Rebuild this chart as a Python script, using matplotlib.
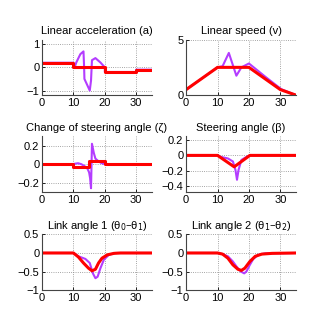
import matplotlib
matplotlib.use("Agg")
import matplotlib.pyplot as plt

plt.rcParams['font.family'] = ['Liberation Sans', 'DejaVu Sans']
plt.rcParams['font.size'] = 8

PURPLE = '#b43cff'
RED = '#ff0000'

# Linear acceleration (a)
acc_t_p = [0, 10, 10, 10.5, 10.9, 12.2, 13.2, 13.4, 13.5, 15.2, 15.6, 15.9, 17.0, 18.6, 20, 20, 30, 30, 35]
acc_p = [0.2, 0.2, 0.0, 0.05, 0.21, 0.57, 0.69, 0.0, -0.5, -1.0, -0.57, 0.31, 0.4, 0.21, 0.0, -0.2, -0.2, -0.1, -0.1]
acc_t_r = [0, 10, 10, 20, 20, 30, 30, 35]
acc_r = [0.2, 0.2, 0.0, 0.0, -0.2, -0.2, -0.1, -0.1]

# Linear speed (v)
spd_t_p = [0, 10, 11.6, 13.6, 16.0, 17.6, 20.0, 25.2, 30.3, 35]
spd_p = [0.5, 2.5, 2.6, 3.8, 1.75, 2.5, 2.85, 1.66, 0.54, 0.0]
spd_t_r = [0, 10, 20, 30, 35]
spd_r = [0.5, 2.5, 2.5, 0.5, 0.0]

# Change of steering angle (zeta)
zeta_t_p = [0, 10, 10.5, 11.5, 12.5, 13.5, 14.5, 15.0, 15.3, 15.6, 15.9, 16.5, 17.0, 18.0, 19.0, 20.0, 35]
zeta_p = [0, 0, 0.005, 0.01, 0.0, -0.02, -0.05, -0.09, -0.15, -0.26, 0.22, 0.12, 0.06, 0.03, 0.01, 0.0, 0.0]
zeta_t_r = [0, 10, 10, 15, 15, 20, 20, 35]
zeta_r = [0, 0, -0.03, -0.03, 0.03, 0.03, 0, 0]

# Steering angle (beta)
beta_t_p = [0, 10, 11.1, 13.3, 14.9, 15.7, 16.2, 16.7, 17.6, 19.2, 20.3, 35]
beta_p = [0, 0, -0.02, -0.04, -0.08, -0.19, -0.32, -0.19, -0.06, -0.02, 0, 0]
beta_t_r = [0, 10, 15.3, 20.3, 35]
beta_r = [0, 0, -0.15, 0, 0]

# Link angle 1
th1_t_p = [0, 10, 11.6, 13.8, 15.2, 16.2, 17.0, 17.7, 18.6, 19.7, 21.3, 23.4, 35]
th1_p = [0, 0, -0.09, -0.16, -0.27, -0.55, -0.68, -0.64, -0.41, -0.18, -0.05, 0, 0]
th1_t_r = [0, 10, 11.6, 13.2, 14.8, 15.9, 17.0, 18.0, 19.1, 20.8, 22.9, 25, 35]
th1_r = [0, 0, -0.11, -0.27, -0.41, -0.48, -0.44, -0.27, -0.14, -0.05, -0.01, 0, 0]

# Link angle 2
th2_t_p = [0, 10, 11.6, 13.3, 14.9, 16.0, 17.4, 18.5, 19.2, 20.3, 21.4, 23.0, 25.2, 35]
th2_p = [0, 0, -0.03, -0.09, -0.23, -0.36, -0.5, -0.55, -0.5, -0.32, -0.16, -0.05, -0.01, 0]
th2_t_r = [0, 10, 11.6, 13.3, 14.9, 16.5, 17.6, 18.7, 20.3, 22.0, 24.1, 27.4, 35]
th2_r = [0, 0, -0.03, -0.14, -0.32, -0.44, -0.47, -0.41, -0.23, -0.09, -0.03, -0.01, 0]

titles = ['Linear acceleration (a)', 'Linear speed (v)',
          'Change of steering angle (\u03b6)', 'Steering angle (\u03b2)',
          'Link angle 1 (\u03b8$_0$\u2013\u03b8$_1$)', 'Link angle 2 (\u03b8$_1$\u2013\u03b8$_2$)']
yticks = [[-1, 0, 1], [0, 5], [-0.2, 0, 0.2], [-0.4, -0.2, 0, 0.2], [-1, -0.5, 0, 0.5], [-1, -0.5, 0, 0.5]]
ytlabels = [['\u22121', '0', '1'], ['0', '5'], ['\u22120.2', '0', '0.2'],
            ['\u22120.4', '\u22120.2', '0', '0.2'], ['\u22121', '\u22120.5', '0', '0.5'],
            ['\u22121', '\u22120.5', '0', '0.5']]
ylims = [(-1.2, 1.2), (0, 5), (-0.3, 0.3), (-0.48, 0.25), (-1, 0.5), (-1, 0.5)]
xticks = [0, 10, 20, 30]

series = [(acc_t_p, acc_p, acc_t_r, acc_r), (spd_t_p, spd_p, spd_t_r, spd_r),
          (zeta_t_p, zeta_p, zeta_t_r, zeta_r), (beta_t_p, beta_p, beta_t_r, beta_r),
          (th1_t_p, th1_p, th1_t_r, th1_r), (th2_t_p, th2_p, th2_t_r, th2_r)]

fig = plt.figure(figsize=(3.26, 3.27), dpi=100)
lefts = [0.129, 0.571]
bottoms = [0.709, 0.413, 0.113]
w, h = 0.337, 0.170

for i, (tp, yp, tr, yr) in enumerate(series):
    ax = fig.add_axes([lefts[i % 2], bottoms[i // 2], w, h])
    ax.plot(tp, yp, color=PURPLE, lw=1.5)
    ax.plot(tr, yr, color=RED, lw=2.2)
    ax.set_xlim(0, 35)
    ax.set_ylim(*ylims[i])
    ax.set_xticks(xticks)
    ax.set_yticks(yticks[i])
    ax.set_yticklabels(ytlabels[i])
    ax.set_title(titles[i], fontsize=8, pad=4)
    ax.grid(True, linestyle=':', color='#888888', lw=0.6)
    for s in ['top', 'right']:
        ax.spines[s].set_visible(False)
    for s in ['left', 'bottom']:
        ax.spines[s].set_color('#444444')
        ax.spines[s].set_linewidth(0.8)
    ax.tick_params(direction='in', length=2, width=0.6, pad=2, labelsize=8)

fig.savefig('out.png', dpi=100)
